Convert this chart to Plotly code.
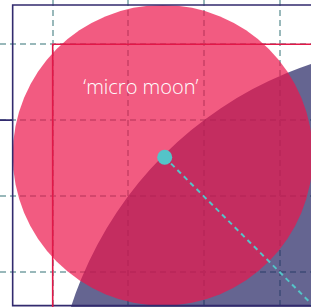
import plotly.graph_objects as go

# ---- data ----
moon_names = ["micro moon", "large moon"]
moon_cx = [2.454, 6.0]
moon_cy = [2.536, -1.0]
moon_r = [1.983, 5.0]
moon_fill = ["rgba(236,22,76,0.7)", "rgba(36,36,99,0.7)"]
box_colors = ["rgb(50,42,110)", "rgb(226,24,72)"]
dot_x = [2.48]
dot_y = [2.51]
grid_ticks = [1, 2, 3, 4]
label_text = "\u2018micro moon\u2019"
label_x = [2.165]
label_y = [3.41]
guide_y = [3.0]
x_range = [0.3036, 4.4135]
y_range = [0.5343, 4.5844]

fig = go.Figure()
shapes = []

# moons (purple first, pink on top)
for i in [1, 0]:
    shapes.append(dict(
        type="circle", xref="x", yref="y", layer="between",
        x0=moon_cx[i] - moon_r[i], x1=moon_cx[i] + moon_r[i],
        y0=moon_cy[i] - moon_r[i], y1=moon_cy[i] + moon_r[i],
        fillcolor=moon_fill[i], line=dict(width=0)))

# bounding boxes
for i in [0, 1]:
    shapes.append(dict(
        type="rect", xref="x", yref="y", layer="above",
        x0=moon_cx[i] - moon_r[i], x1=moon_cx[i] + moon_r[i],
        y0=moon_cy[i] - moon_r[i], y1=moon_cy[i] + moon_r[i],
        fillcolor="rgba(0,0,0,0)", line=dict(color=box_colors[i], width=1.6)))

# short navy guide on the left
shapes.append(dict(
    type="line", xref="x", yref="y", layer="above",
    x0=x_range[0] - 1, x1=moon_cx[0] - moon_r[0], y0=guide_y[0], y1=guide_y[0],
    line=dict(color=box_colors[0], width=1.6)))

# dashed line between the centres
fig.add_trace(go.Scatter(
    x=[dot_x[0], moon_cx[1]], y=[dot_y[0], moon_cy[1]],
    mode="lines", line=dict(color="rgb(84,196,200)", width=2, dash="5px,4px"),
    hoverinfo="skip", showlegend=False))

# centre dot
fig.add_trace(go.Scatter(
    x=dot_x, y=dot_y, mode="markers",
    marker=dict(size=15, color="rgb(84,196,200)", line=dict(width=0)),
    hoverinfo="skip", showlegend=False))

# label
fig.add_trace(go.Scatter(
    x=label_x, y=label_y, mode="text", text=[label_text],
    textfont=dict(family="Open Sans", size=20, color="white", weight=300),
    textposition="middle center", hoverinfo="skip", showlegend=False))

axis_common = dict(
    tickmode="array", tickvals=grid_ticks, showticklabels=False,
    showgrid=True, gridcolor="rgb(152,184,186)", gridwidth=2, griddash="6px,4px",
    zeroline=False, showline=False, ticks="", fixedrange=True)

fig.update_layout(
    width=311, height=307,
    margin=dict(l=0, r=0, t=0, b=0, pad=0),
    paper_bgcolor="white", plot_bgcolor="white",
    shapes=shapes,
    xaxis=dict(range=x_range, **axis_common),
    yaxis=dict(range=y_range, **axis_common),
    showlegend=False,
)

fig.write_html("out.html", config={"displayModeBar": False},
               post_script="document.body.style.margin='0';document.body.style.overflow='hidden';")
